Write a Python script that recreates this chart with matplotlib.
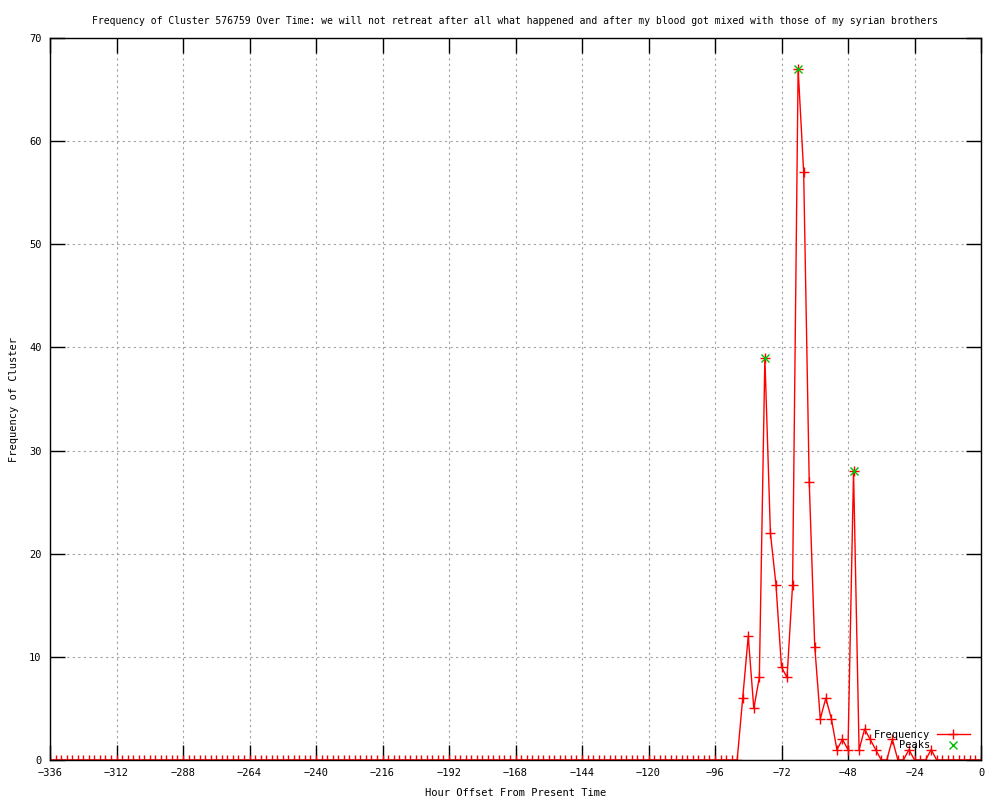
import numpy as np
import matplotlib
matplotlib.use("Agg")
import matplotlib.pyplot as plt

# hour offsets, one point every 2 hours
hours = np.arange(-336, 1, 2)

# frequency per 2-hour bin, from -336 up to 0
freq = [
    0, 0, 0, 0, 0, 0, 0, 0, 0, 0, 0, 0,   # -336 .. -314
    0, 0, 0, 0, 0, 0, 0, 0, 0, 0, 0, 0,   # -312 .. -290
    0, 0, 0, 0, 0, 0, 0, 0, 0, 0, 0, 0,   # -288 .. -266
    0, 0, 0, 0, 0, 0, 0, 0, 0, 0, 0, 0,   # -264 .. -242
    0, 0, 0, 0, 0, 0, 0, 0, 0, 0, 0, 0,   # -240 .. -218
    0, 0, 0, 0, 0, 0, 0, 0, 0, 0, 0, 0,   # -216 .. -194
    0, 0, 0, 0, 0, 0, 0, 0, 0, 0, 0, 0,   # -192 .. -170
    0, 0, 0, 0, 0, 0, 0, 0, 0, 0, 0, 0,   # -168 .. -146
    0, 0, 0, 0, 0, 0, 0, 0, 0, 0, 0, 0,   # -144 .. -122
    0, 0, 0, 0, 0, 0, 0, 0, 0, 0, 0, 0,   # -120 .. -98
    0, 0, 0, 0, 0, 6, 12, 5, 8, 39, 22, 17,   # -96 .. -74
    9, 8, 17, 67, 57, 27, 11, 4, 6, 4, 1, 2,  # -72 .. -50
    1, 28, 1, 3, 2, 1, 0, 0, 2, 0, 0, 1,      # -48 .. -26
    0, 0, 0, 1, 0, 0, 0, 0, 0, 0, 0, 0,       # -24 .. -2
    0,                                        # 0
]

peak_hours = [-78, -66, -46]
peak_vals = [39, 67, 28]

title = ("Frequency of Cluster 576759 Over Time: we will not retreat after all what happened "
         "and after my blood got mixed with those of my syrian brothers")

plt.rcParams['font.family'] = ['DejaVu Sans Mono']
plt.rcParams['font.size'] = 7.5

fig = plt.figure(figsize=(10, 8), dpi=100)
ax = fig.add_axes([0.05, 0.05, 0.931, 0.9025])

ax.plot(hours, freq, color='red', lw=1, marker='+', ms=7, mew=1, label='Frequency')
ax.plot(peak_hours, peak_vals, color='#00c000', lw=0, marker='x', ms=6, mew=1, label='Peaks')

ax.set_xlim(-336, 0)
ax.set_ylim(0, 70)
ax.set_xticks(np.arange(-336, 1, 24))
ax.set_yticks(np.arange(0, 71, 10))
ax.tick_params(direction='in', length=11, width=1, top=True, right=True, pad=6)
ax.grid(True, color='#a0a0a0', linestyle=(0, (2, 3)), lw=0.8)
for s in ax.spines.values():
    s.set_linewidth(1)

ax.set_title(title, fontsize=7, pad=10)
ax.set_xlabel("Hour Offset From Present Time", labelpad=7)
ax.set_ylabel("Frequency of Cluster", labelpad=7)

ax.legend(loc='lower right', bbox_to_anchor=(0.997, 0.002), frameon=False, markerfirst=False,
          handlelength=3.2, handletextpad=0.6, labelspacing=0.05, borderpad=0.3)

fig.savefig("out.png", dpi=100)
